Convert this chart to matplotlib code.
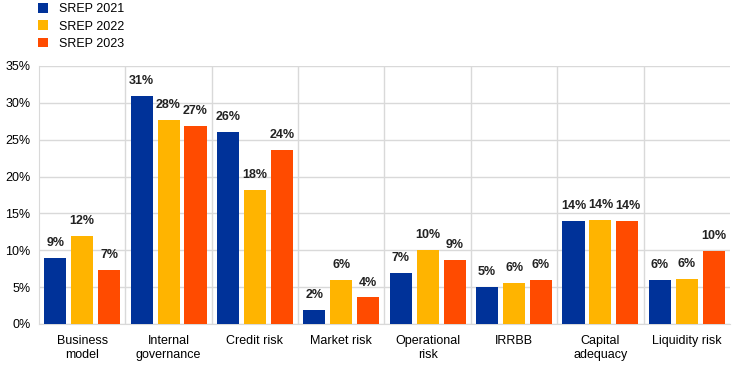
import matplotlib
matplotlib.use("Agg")
import matplotlib.pyplot as plt
import numpy as np

categories = ["Business\nmodel", "Internal\ngovernance", "Credit risk", "Market risk",
              "Operational\nrisk", "IRRBB", "Capital\nadequacy", "Liquidity risk"]
series_names = ["SREP 2021", "SREP 2022", "SREP 2023"]
srep2021 = [9.0, 30.9, 26.0, 1.9, 6.9, 5.0, 14.0, 6.0]
srep2022 = [11.9, 27.7, 18.2, 6.0, 10.0, 5.6, 14.1, 6.1]
srep2023 = [7.3, 26.9, 23.6, 3.6, 8.7, 6.0, 14.0, 9.9]
colors = ["#003299", "#FFB400", "#FF4B00"]

plt.rcParams['font.family'] = ['Liberation Sans', 'DejaVu Sans']

fig = plt.figure(figsize=(7.44, 3.69), dpi=100)
ax = fig.add_axes([39/744, 1-324/369, 691/744, 258/369])

x = np.arange(len(categories))
w = 0.255
offs = [-0.312, 0.0, 0.312]
for vals, off, c, name in zip([srep2021, srep2022, srep2023], offs, colors, series_names):
    bars = ax.bar(x + off, vals, width=w, color=c, label=name, zorder=3)
    for b, v in zip(bars, vals):
        ax.text(b.get_x() + b.get_width()/2, v + 1.2, f"{round(v):.0f}%",
                ha='center', va='bottom', fontsize=9, fontweight='bold', color='#222222')

ax.set_xlim(-0.5, len(categories) - 0.5)
ax.set_ylim(0, 35)
ax.set_yticks(np.arange(0, 36, 5))
ax.set_yticklabels([f"{t}%" for t in range(0, 36, 5)], fontsize=9)
ax.set_xticks(x)
ax.set_xticklabels(categories, fontsize=9)
ax.tick_params(axis='both', length=0, pad=6)
ax.tick_params(axis='x', pad=8)

ax.grid(axis='y', color='#d9d9d9', linewidth=1, zorder=0)
for b in np.arange(0.5, len(categories) - 0.5, 1):
    ax.axvline(b, color='#d9d9d9', linewidth=1, zorder=0)
for s in ax.spines.values():
    s.set_color('#d9d9d9')
ax.spines['top'].set_visible(False)
ax.spines['right'].set_visible(False)

handles, labels = ax.get_legend_handles_labels()
fig.legend(handles, labels, loc='upper left', bbox_to_anchor=(38/744, 1 - 3/369),
           frameon=False, fontsize=9, handlelength=0.8, handleheight=0.8,
           handletextpad=0.9, labelspacing=0.42, borderpad=0, borderaxespad=0)

fig.savefig("out.png", dpi=100)
